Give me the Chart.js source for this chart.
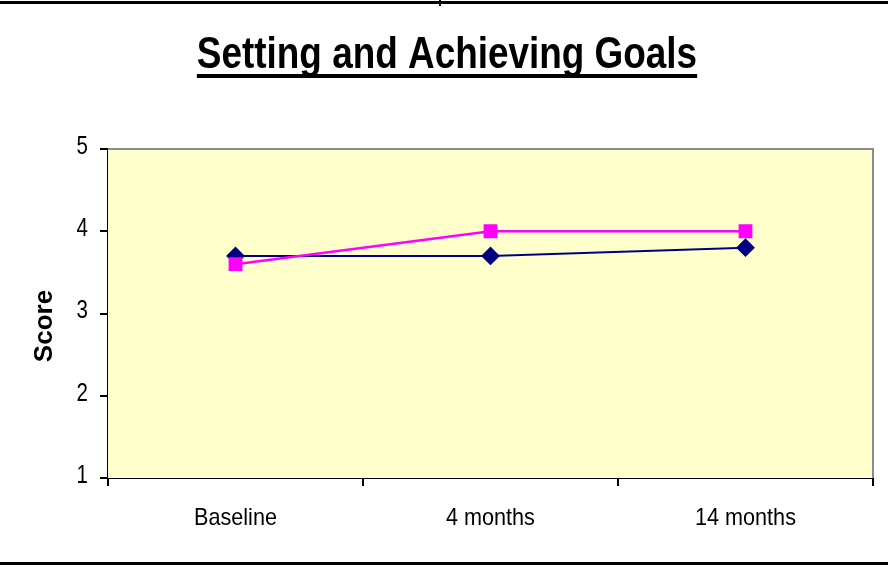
<!DOCTYPE html>
<html>
<head>
<meta charset="utf-8">
<script src="https://cdn.jsdelivr.net/npm/chart.js@4/dist/chart.umd.min.js"></script>
<style>
  html, body { margin: 0; padding: 0; background: #fff; }
  canvas { display: block; }
</style>
</head>
<body>
<canvas id="goals" width="888" height="567"></canvas>
<script>
"use strict";

const chartTitle = "Setting and Achieving Goals";
const yTitle = "Score";
const periods = ["Baseline", "4 months", "14 months"];
const seriesA = [3.7, 3.7, 3.8];
const seriesB = [3.6, 4.0, 4.0];
const yTicks = [1, 2, 3, 4, 5];

const SANS = "'Liberation Sans', Arial, sans-serif";

// no narrow face installed, so squeeze regular Arial-metric text sideways
function narrowText(ctx, text, x, y, squeeze, align) {
  ctx.save();
  ctx.translate(x, y);
  ctx.scale(squeeze, 1);
  ctx.textAlign = align;
  ctx.fillText(text, 0, 0);
  ctx.restore();
}

// yellow plot fill, grey top/right frame
const plotFrame = {
  id: "plotFrame",
  beforeDatasetsDraw(chart) {
    const { ctx, chartArea: a } = chart;
    ctx.save();
    ctx.fillStyle = "#ffffcc";
    ctx.fillRect(a.left, a.top, a.right - a.left, a.bottom - a.top);
    ctx.strokeStyle = "#8c8c8c";
    ctx.lineWidth = 2;
    ctx.beginPath();
    ctx.moveTo(a.left, a.top);
    ctx.lineTo(a.right, a.top);
    ctx.lineTo(a.right, a.bottom);
    ctx.stroke();
    ctx.restore();
  },
};

// title, axis title, tick labels and page rules
const labels = {
  id: "labels",
  afterDraw(chart) {
    const { ctx, width, height } = chart;
    const xs = chart.scales.x, ys = chart.scales.y;
    ctx.save();
    ctx.fillStyle = "#000";
    ctx.fillRect(0, 1, width, 3);
    ctx.fillRect(439, 0, 2, 6);
    ctx.fillRect(0, height - 5, width, 3);

    ctx.font = "bold 45px " + SANS;
    ctx.textBaseline = "alphabetic";
    const sq = 0.82;
    const w = ctx.measureText(chartTitle).width * sq;
    narrowText(ctx, chartTitle, 447, 68, sq, "center");
    ctx.fillRect(447 - w / 2, 74, w, 4);

    ctx.textBaseline = "middle";
    ctx.save();
    ctx.translate(45, 326);
    ctx.rotate(-Math.PI / 2);
    ctx.font = "bold 26px " + SANS;
    ctx.textAlign = "center";
    ctx.fillText(yTitle, 0, 0);
    ctx.restore();

    ctx.font = "25px " + SANS;
    ys.ticks.forEach((t, i) => {
      narrowText(ctx, String(t.value), ys.right - 20, ys.getPixelForTick(i) - 2, 0.82, "right");
    });
    ctx.font = "24px " + SANS;
    xs.ticks.forEach((t, i) => {
      narrowText(ctx, periods[t.value], xs.getPixelForTick(i), 518, 0.9, "center");
    });
    ctx.restore();
  },
};

new Chart(document.getElementById("goals"), {
  type: "line",
  data: {
    labels: periods,
    datasets: [
      {
        data: seriesA, borderColor: "#000080", backgroundColor: "#000080",
        borderWidth: 2, pointStyle: "rectRot", pointRadius: 8, pointHoverRadius: 8,
        tension: 0, order: 2,
      },
      {
        data: seriesB, borderColor: "#ff00ff", backgroundColor: "#ff00ff",
        borderWidth: 2.5, pointStyle: "rect", pointRadius: 8, pointHoverRadius: 8,
        tension: 0, order: 1,
      },
    ],
  },
  options: {
    responsive: false,
    animation: false,
    layout: { padding: { left: 0, right: 15, top: 149, bottom: 0 } },
    plugins: {
      legend: { display: false },
      tooltip: { enabled: false },
      title: { display: false },
    },
    scales: {
      x: {
        offset: true,
        grid: { offset: true, drawOnChartArea: false, color: "#000", tickLength: 8, lineWidth: 2 },
        border: { color: "#000", width: 2 },
        ticks: { display: false },
        afterFit: (s) => { s.height = 89; },
      },
      y: {
        min: 1, max: 5,
        afterBuildTicks: (s) => { s.ticks = yTicks.map((v) => ({ value: v })); },
        grid: { drawOnChartArea: false, color: "#000", tickLength: 8, lineWidth: 2 },
        border: { color: "#000", width: 2 },
        ticks: { display: false },
        afterFit: (s) => { s.width = 108; },
      },
    },
  },
  plugins: [plotFrame, labels],
});
</script>
</body>
</html>
